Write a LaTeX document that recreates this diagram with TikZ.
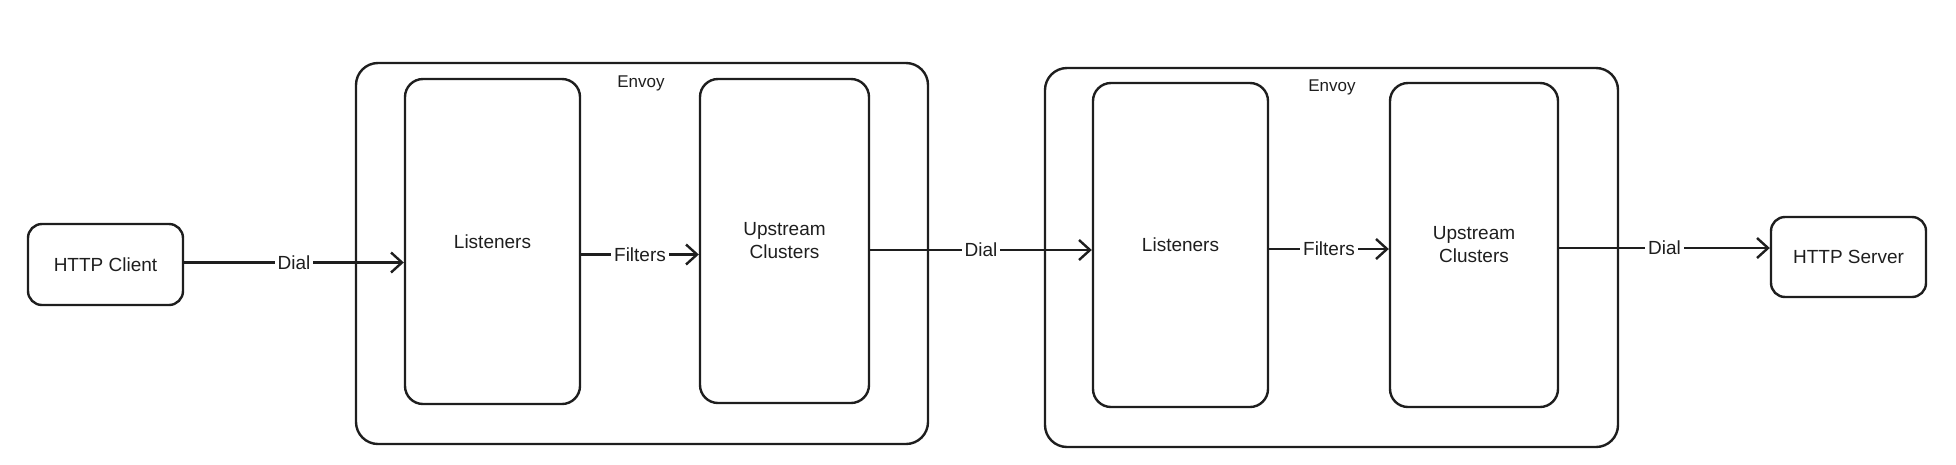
\documentclass[tikz,border=0pt]{standalone}
\usepackage{fontspec}
\setmainfont{Liberation Sans}
\usetikzlibrary{arrows.meta}
\definecolor{ink}{HTML}{1E1E1E}
\begin{document}
\begin{tikzpicture}[x=1pt,y=-1pt,
  box/.style={draw=ink,line width=2.4pt,rounded corners=18pt,inner sep=0pt,
    font=\fontsize{19}{23}\selectfont,text=ink,align=center},
  conn/.style={draw=ink,line width=2.4pt,-{Straight Barb[length=11pt,width=20pt,line width=2.4pt]}},
  lbl/.style={fill=white,inner sep=3pt,font=\fontsize{19}{23}\selectfont,text=ink},
  title/.style={font=\fontsize{17}{20}\selectfont,text=ink,inner sep=0pt}]
\useasboundingbox (0,0) rectangle (1956,464);
% outer Envoy boxes
\node[box,minimum width=572pt,minimum height=381pt,rounded corners=22pt] (envoy1) at (642,253.5) {};
\node[title] (envoy1t) at (641,83) {Envoy};
\node[box,minimum width=573pt,minimum height=379pt,rounded corners=22pt] (envoy2) at (1331.5,257.5) {};
\node[title] (envoy2t) at (1332,87) {Envoy};
% end points
\node[box,minimum width=155pt,minimum height=81pt,rounded corners=14pt] (client) at (105.5,264.5) {HTTP Client};
\node[box,minimum width=155pt,minimum height=80pt,rounded corners=14pt] (server) at (1848.5,257) {HTTP Server};
% inner boxes
\node[box,minimum width=175pt,minimum height=325pt] (listen1) at (492.5,241.5) {Listeners};
\node[box,minimum width=169pt,minimum height=324pt] (up1) at (784.5,241) {Upstream\\Clusters};
\node[box,minimum width=175pt,minimum height=324pt] (listen2) at (1180.5,245) {Listeners};
\node[box,minimum width=168pt,minimum height=324pt] (up2) at (1474,245) {Upstream\\Clusters};
% connectors
\draw[conn] ([yshift=2pt]client.east) -- node[lbl] {Dial} ([yshift=2pt]client.east -| listen1.west);
\draw[conn] ([yshift=-13pt]listen1.east) -- node[lbl] {Filters} ([yshift=-13pt]listen1.east -| up1.west);
\draw[conn] ([yshift=-9pt]up1.east) -- node[lbl] {Dial} ([yshift=-9pt]up1.east -| listen2.west);
\draw[conn] ([yshift=-4pt]listen2.east) -- node[lbl] {Filters} ([yshift=-4pt]listen2.east -| up2.west);
\draw[conn] ([yshift=-3pt]up2.east) -- node[lbl] {Dial} ([yshift=-3pt]up2.east -| server.west);
\end{tikzpicture}
\end{document}
